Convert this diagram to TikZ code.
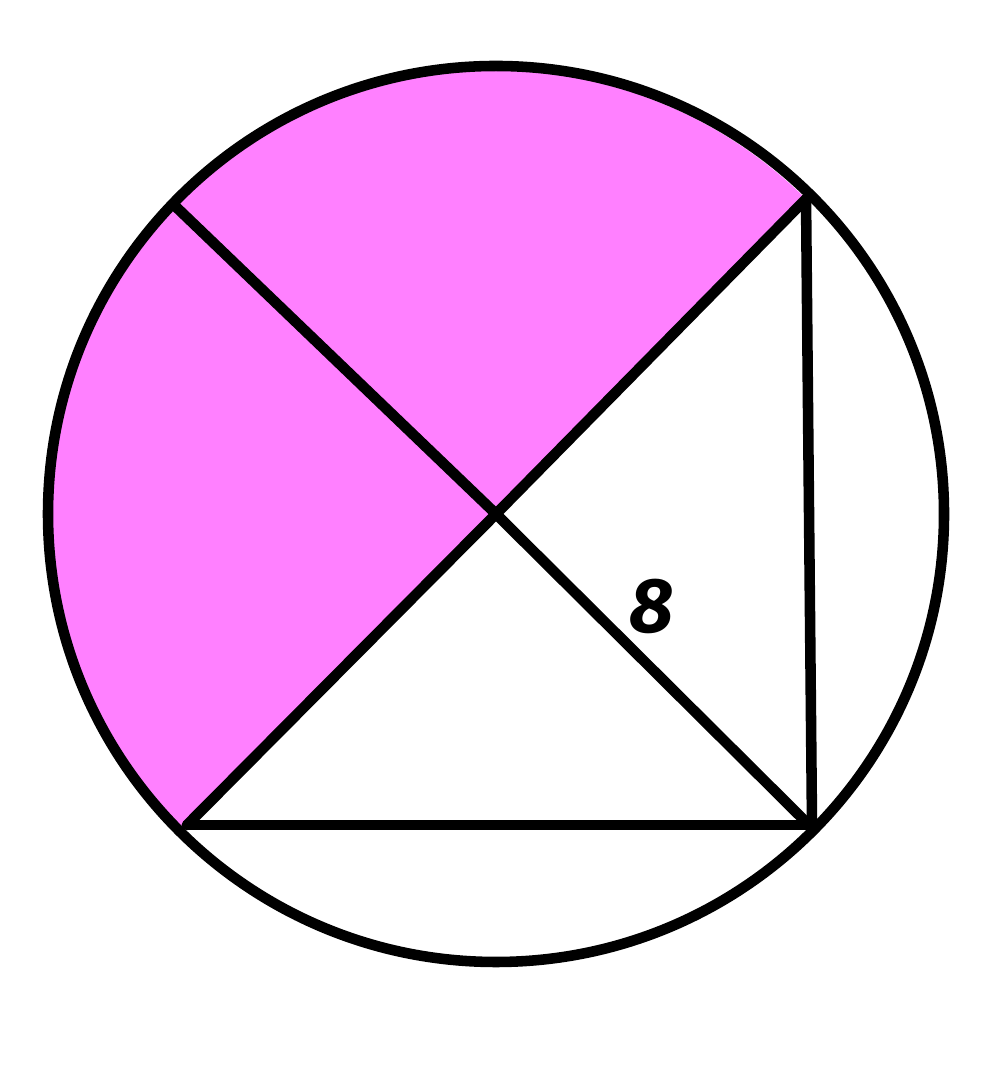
\documentclass[tikz,border=0pt]{standalone}
\usepackage{fontspec}
\setmainfont{Fira Sans}
\begin{document}
\begin{tikzpicture}[x=0.01cm,y=0.01cm,
  edge/.style={line width=3pt,line cap=round,line join=round,black},
  lbl/.style={font=\fontsize{22}{24}\selectfont\bfseries\itshape,inner sep=0pt}]
\useasboundingbox (0,0) rectangle (1000,1083);
\coordinate (C) at (496,569);
\coordinate (TL) at (174,878);
\coordinate (TR) at (806,884);
\coordinate (BL) at (187,258);
\coordinate (BR) at (809,258);
\coordinate (VB) at (812,258);
% pink semicircle
\fill[color={rgb,255:red,255;green,128;blue,255}] (BL) -- (TR) arc[start angle=45.3,end angle=225.3,radius=446] -- cycle;
% circle
\draw[edge] (C) circle[radius=448];
% diameters
\draw[edge] (TL) -- (C) -- (BR);
\draw[edge] (BL) -- (C) -- (TR);
% triangle sides
\draw[edge] (BL) -- (BR);
\draw[edge] (TR) -- (VB);
\node[lbl] (eight) at (652,477) {8};
\end{tikzpicture}
\end{document}
